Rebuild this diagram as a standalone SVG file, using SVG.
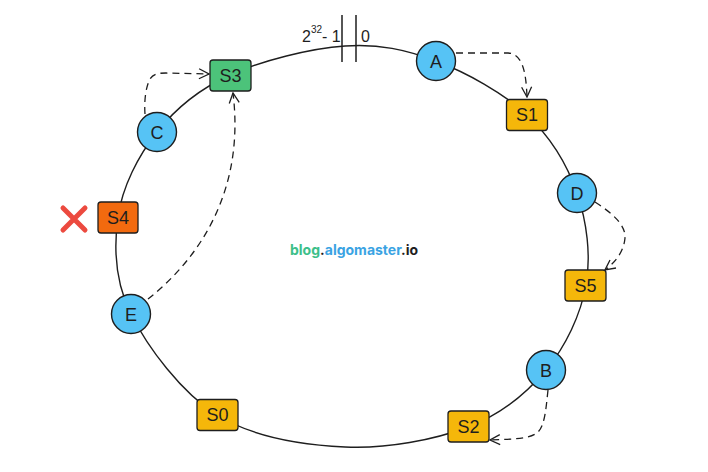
<svg xmlns="http://www.w3.org/2000/svg" width="708" height="472" viewBox="0 0 708 472">
<defs>
<style>
.ring{fill:none;stroke:#1e1e1e;stroke-width:1.4}
.dash{fill:none;stroke:#1e1e1e;stroke-width:1.3;stroke-dasharray:7 5}
.hash{stroke:#1e1e1e;stroke-width:1.5}
.vn{fill:#56c3f5;stroke:#1e1e1e;stroke-width:1.4}
.srv{fill:#f5b70a;stroke:#1e1e1e;stroke-width:1.3}
.s3{fill:#4cc37a;stroke:#1e1e1e;stroke-width:1.3}
.s4{fill:#f26a0f;stroke:#1e1e1e;stroke-width:1.3}
.lbl{font-family:"Liberation Sans",Arial,sans-serif;font-size:18px;fill:#1e1e1e;text-anchor:middle;dominant-baseline:central}
.top{font-family:"Liberation Sans",Arial,sans-serif;font-size:16px;fill:#1e1e1e}
.wm{font-family:Inter,"Liberation Sans",Arial,sans-serif;font-size:14px;font-weight:700}
</style>
<marker id="arr" viewBox="0 0 12 12" refX="11" refY="6" markerWidth="12" markerHeight="12" markerUnits="userSpaceOnUse" orient="auto">
<path d="M1,1 L11,6 L1,11" fill="none" stroke="#1e1e1e" stroke-width="1.3"/>
</marker>
</defs>
<rect width="708" height="472" fill="#ffffff"/>
<g id="ring">
<path class="ring" d="M345,46 C379.3,43.7 405.7,49.5 436,61 C466.3,72.5 503.5,93 527,115 C550.5,137 567.2,164.7 577,193 C586.8,221.3 591.2,255.5 586,285 C580.8,314.5 565.7,346.3 546,370 C526.3,393.7 501.5,414.2 468,427 C434.5,439.8 386.8,449 345,447 C303.2,445 252.7,437.2 217,415 C181.3,392.8 147.5,347 131,314 C114.5,281 113.7,247.3 118,217 C122.3,186.7 138.3,155.7 157,132 C175.7,108.3 198.7,89.3 230,75 C261.3,60.7 310.7,48.3 345,46 Z"/>
<line class="hash" x1="342" y1="15" x2="342" y2="62"/>
<line class="hash" x1="356" y1="15" x2="356" y2="62"/>
<text class="top" x="302" y="42">2</text>
<text class="top" x="311" y="33" style="font-size:10px">32</text>
<text class="top" x="322" y="42">- 1</text>
<text class="top" x="361" y="42">0</text>
</g>
<g id="connectors">
<path class="dash" d="M145,114 C144,100 146,88 149,81 C152,74 158,73 166,73 L209,74" marker-end="url(#arr)"/>
<path class="dash" d="M148,299 C200,258 245,190 233,93" marker-end="url(#arr)"/>
<path class="dash" d="M456,53 L508,53 C522,54 526,70 527,97" marker-end="url(#arr)"/>
<path class="dash" d="M595,202 C612,213 626,225 625,238 C624,250 617,261 605,270" marker-end="url(#arr)"/>
<path class="dash" d="M548,390 C546,408 545,425 538,432 C530,439 515,439 490,440" marker-end="url(#arr)"/>
</g>
<g id="node-A"><circle class="vn" cx="436" cy="61" r="19.5"/><text class="lbl" x="436" y="62">A</text></g>
<g id="node-S1"><rect class="srv" x="506.5" y="99.5" width="41" height="31" rx="3"/><text class="lbl" x="527" y="115">S1</text></g>
<g id="node-D"><circle class="vn" cx="577" cy="193" r="19.5"/><text class="lbl" x="577" y="194">D</text></g>
<g id="node-S5"><rect class="srv" x="565" y="270" width="41" height="31" rx="3"/><text class="lbl" x="585.5" y="285.5">S5</text></g>
<g id="node-B"><circle class="vn" cx="546" cy="370" r="19.5"/><text class="lbl" x="546" y="371">B</text></g>
<g id="node-S2"><rect class="srv" x="448" y="411" width="41" height="31" rx="3"/><text class="lbl" x="468.5" y="426.5">S2</text></g>
<g id="node-S0"><rect class="srv" x="197" y="399.5" width="41" height="31" rx="3"/><text class="lbl" x="217.5" y="415">S0</text></g>
<g id="node-E"><circle class="vn" cx="131" cy="314" r="19.5"/><text class="lbl" x="131" y="315">E</text></g>
<g id="node-S4"><rect class="s4" x="98" y="202" width="40" height="31" rx="3"/><text class="lbl" x="118" y="217.5">S4</text>
<path d="M63,208 L85,230 M85,208 L63,230" stroke="#ec4a3f" stroke-width="5" stroke-linecap="round" fill="none"/></g>
<g id="node-C"><circle class="vn" cx="157" cy="132" r="19.5"/><text class="lbl" x="157" y="133">C</text></g>
<g id="node-S3"><rect class="s3" x="210" y="60" width="41" height="31" rx="3"/><text class="lbl" x="230.5" y="75.5">S3</text></g>
<g id="watermark">
<text class="wm" x="290" y="255"><tspan fill="#3dbf8a">blog</tspan><tspan fill="#1e1e1e">.</tspan><tspan fill="#3aa3e3">algomaster</tspan><tspan fill="#1e1e1e">.io</tspan></text>
</g>
</svg>
